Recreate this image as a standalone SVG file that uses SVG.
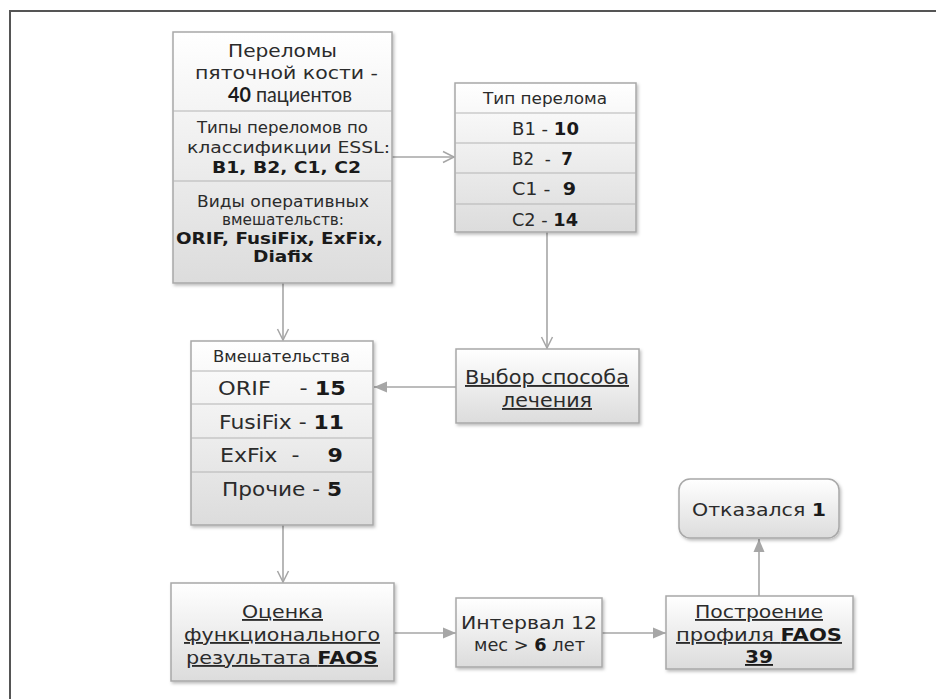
<svg xmlns="http://www.w3.org/2000/svg" width="936" height="699" viewBox="0 0 936 699">
<defs>
<linearGradient id="g" x1="0" y1="0" x2="0" y2="1">
<stop offset="0" stop-color="#ffffff"/>
<stop offset="1" stop-color="#dcdcdc"/>
</linearGradient>
<filter id="sh" x="-10%" y="-10%" width="125%" height="125%">
<feDropShadow dx="1.5" dy="2" stdDeviation="1.5" flood-color="#000" flood-opacity="0.25"/>
</filter>
<marker id="open" markerWidth="14" markerHeight="14" refX="12" refY="7" orient="auto" markerUnits="userSpaceOnUse">
<path d="M1,1.5 L12,7 L1,12.5" fill="none" stroke="#a6a6a6" stroke-width="1.5"/>
</marker>
<marker id="fill" markerWidth="14" markerHeight="14" refX="13" refY="7" orient="auto" markerUnits="userSpaceOnUse">
<path d="M0,1.5 L13,7 L0,12.5 Z" fill="#a6a6a6"/>
</marker>
</defs>
<style>
.box{fill:url(#g);stroke:#a8a8a8;stroke-width:1.5;filter:url(#sh)}
.div{stroke:#b4b4b4;stroke-width:1.2}
.t{font-family:"DejaVu Sans",Verdana,sans-serif;fill:#2b2b2b}
.l{font-family:Lato,"Liberation Sans",sans-serif;fill:#2b2b2b}
.b{font-weight:bold;fill:#1a1a1a}
.u{text-decoration:underline}
.c{fill:none;stroke:#a6a6a6;stroke-width:1.6}
.frame{stroke:#555;stroke-width:2;fill:none}
</style>
<rect width="936" height="699" fill="#fff"/>
<path class="frame" d="M10,699 L10,11 L936,11"/>

<g id="connectors">
<line class="c" x1="392" y1="157" x2="454" y2="157" marker-end="url(#open)"/>
<line class="c" x1="283" y1="283" x2="283" y2="340" marker-end="url(#open)"/>
<line class="c" x1="547" y1="232" x2="547" y2="348" marker-end="url(#open)"/>
<line class="c" x1="456" y1="387" x2="374" y2="387" marker-end="url(#fill)"/>
<line class="c" x1="283" y1="525" x2="283" y2="582" marker-end="url(#open)"/>
<line class="c" x1="394" y1="633" x2="456" y2="633" marker-end="url(#fill)"/>
<line class="c" x1="602" y1="633" x2="666" y2="633" marker-end="url(#fill)"/>
<line class="c" x1="759" y1="596" x2="759" y2="539" marker-end="url(#fill)"/>
</g>

<g id="fractures">
<rect class="box" x="173" y="32" width="219" height="251"/>
<line class="div" x1="173" y1="111" x2="392" y2="111"/>
<line class="div" x1="173" y1="181" x2="392" y2="181"/>
<text class="t" font-size="18.5" x="228" y="57" textLength="109" lengthAdjust="spacingAndGlyphs">Переломы</text>
<text class="t" font-size="18.5" x="195" y="79" textLength="183" lengthAdjust="spacingAndGlyphs">пяточной кости -</text>
<text class="l" font-size="20.5" x="228" y="102" textLength="124" lengthAdjust="spacingAndGlyphs"><tspan class="b">40</tspan> пациентов</text>
<text class="t" font-size="16" x="197" y="133" textLength="171" lengthAdjust="spacingAndGlyphs">Типы переломов по</text>
<text class="t" font-size="16" x="187" y="153" textLength="203" lengthAdjust="spacingAndGlyphs">классификции ESSL:</text>
<text class="t b" font-size="16.5" x="212" y="173" textLength="149" lengthAdjust="spacingAndGlyphs">B1, B2, C1, C2</text>
<text class="t" font-size="16" x="197" y="207" textLength="172" lengthAdjust="spacingAndGlyphs">Виды оперативных</text>
<text class="t" font-size="16" x="222" y="225" textLength="122" lengthAdjust="spacingAndGlyphs">вмешательств:</text>
<text class="t b" font-size="16" x="176" y="244" textLength="207" lengthAdjust="spacingAndGlyphs">ORIF, FusiFix, ExFix,</text>
<text class="t b" font-size="16" x="253" y="262" textLength="60" lengthAdjust="spacingAndGlyphs">Diafix</text>
</g>

<g id="fracture-type">
<rect class="box" x="455" y="83" width="181" height="149"/>
<line class="div" x1="455" y1="113" x2="636" y2="113"/>
<line class="div" x1="455" y1="143" x2="636" y2="143"/>
<line class="div" x1="455" y1="173" x2="636" y2="173"/>
<line class="div" x1="455" y1="204" x2="636" y2="204"/>
<text class="t" font-size="16" x="483" y="104" textLength="124" lengthAdjust="spacingAndGlyphs">Тип перелома</text>
<text class="t" font-size="17" x="512" y="135" textLength="67" lengthAdjust="spacingAndGlyphs" xml:space="preserve">B1 - <tspan class="b">10</tspan></text>
<text class="t" font-size="17" x="512" y="165" textLength="61" lengthAdjust="spacingAndGlyphs" xml:space="preserve">B2  -  <tspan class="b">7</tspan></text>
<text class="t" font-size="17" x="512" y="195" textLength="64" lengthAdjust="spacingAndGlyphs" xml:space="preserve">C1 -  <tspan class="b">9</tspan></text>
<text class="t" font-size="17" x="512" y="226" textLength="66" lengthAdjust="spacingAndGlyphs" xml:space="preserve">C2 - <tspan class="b">14</tspan></text>
</g>

<g id="interventions">
<rect class="box" x="191" y="341" width="182" height="184"/>
<line class="div" x1="191" y1="371" x2="373" y2="371"/>
<line class="div" x1="191" y1="404" x2="373" y2="404"/>
<line class="div" x1="191" y1="438" x2="373" y2="438"/>
<line class="div" x1="191" y1="472" x2="373" y2="472"/>
<text class="t" font-size="15" x="213" y="362" textLength="137" lengthAdjust="spacingAndGlyphs">Вмешательства</text>
<text class="t" font-size="19.5" x="218" y="395" textLength="128" lengthAdjust="spacingAndGlyphs" xml:space="preserve">ORIF    - <tspan class="b">15</tspan></text>
<text class="t" font-size="19.5" x="219" y="429" textLength="125" lengthAdjust="spacingAndGlyphs" xml:space="preserve">FusiFix - <tspan class="b">11</tspan></text>
<text class="t" font-size="19.5" x="220" y="462" textLength="123" lengthAdjust="spacingAndGlyphs" xml:space="preserve">ExFix  -    <tspan class="b">9</tspan></text>
<text class="t" font-size="19.5" x="222" y="496" textLength="120" lengthAdjust="spacingAndGlyphs" xml:space="preserve">Прочие - <tspan class="b">5</tspan></text>
</g>

<g id="choice">
<rect class="box" x="456" y="349" width="183" height="74"/>
<text class="t u" font-size="19" x="465" y="384" textLength="164" lengthAdjust="spacingAndGlyphs">Выбор способа</text>
<text class="t u" font-size="19" x="502" y="407" textLength="90" lengthAdjust="spacingAndGlyphs">лечения</text>
</g>

<g id="assessment">
<rect class="box" x="171" y="583" width="223" height="98"/>
<text class="t u" font-size="18.5" x="242" y="618" textLength="81" lengthAdjust="spacingAndGlyphs">Оценка</text>
<text class="t u" font-size="18.5" x="184" y="641" textLength="196" lengthAdjust="spacingAndGlyphs">функционального</text>
<text class="t u" font-size="18.5" x="186" y="664" textLength="192" lengthAdjust="spacingAndGlyphs">результата <tspan class="b">FAOS</tspan></text>
</g>

<g id="interval">
<rect class="box" x="456" y="598" width="146" height="69"/>
<text class="t" font-size="18" x="461" y="629" textLength="136" lengthAdjust="spacingAndGlyphs">Интервал 12</text>
<text class="t" font-size="18" x="474" y="651" textLength="111" lengthAdjust="spacingAndGlyphs">мес &gt; <tspan class="b">6</tspan> лет</text>
</g>

<g id="profile">
<rect class="box" x="666" y="596" width="187" height="73"/>
<text class="t u" font-size="18.5" x="695" y="618" textLength="128" lengthAdjust="spacingAndGlyphs">Построение</text>
<text class="t u" font-size="18.5" x="676" y="641" textLength="166" lengthAdjust="spacingAndGlyphs">профиля <tspan class="b">FAOS</tspan></text>
<text class="t u b" font-size="18.5" x="745" y="663" textLength="28" lengthAdjust="spacingAndGlyphs">39</text>
</g>

<g id="refused">
<rect class="box" x="679" y="479" width="160" height="59" rx="11"/>
<text class="t" font-size="18.5" x="692" y="516" textLength="134" lengthAdjust="spacingAndGlyphs">Отказался <tspan class="b">1</tspan></text>
</g>
</svg>
